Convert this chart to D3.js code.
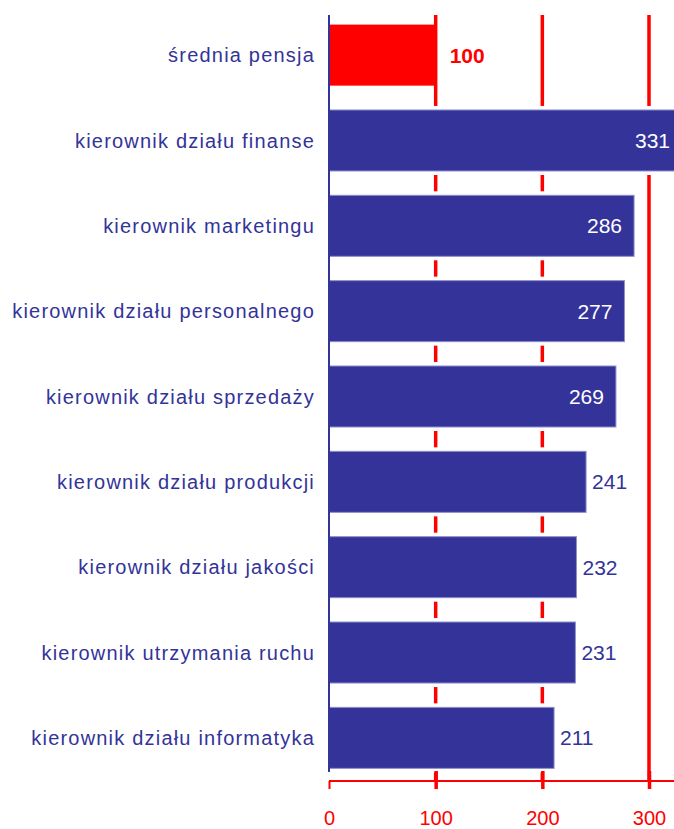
<!DOCTYPE html>
<html>
<head>
<meta charset="utf-8">
<script src="https://cdn.jsdelivr.net/npm/d3@7.9.0/dist/d3.min.js"></script>
<style>
  body { margin: 0; background: #fff; }
  svg { display: block; font-family: "Liberation Sans", Arial, sans-serif; }
</style>
</head>
<body>
<svg id="chart" width="674" height="829"></svg>
<script>
// data (average salary = 100)
const categories = [
  'średnia pensja',
  'kierownik działu finanse',
  'kierownik marketingu',
  'kierownik działu personalnego',
  'kierownik działu sprzedaży',
  'kierownik działu produkcji',
  'kierownik działu jakości',
  'kierownik utrzymania ruchu',
  'kierownik działu informatyka'
];
const values = [100, 331, 286, 277, 269, 241, 232, 231, 211];
const tickValues = [0, 100, 200, 300];

const blue = '#333399';
const red = '#ff0000';

const svg = d3.select('#chart');

const x = d3.scaleLinear().domain([0, 300]).range([329, 649]);
const y = d3.scaleBand()
  .domain(categories)
  .range([12, 781])
  .paddingInner(0.285)
  .paddingOuter(0.148);

// red grid lines, drawn first so the bars sit on top
svg.append('g')
  .selectAll('line')
  .data(tickValues.slice(1))
  .join('line')
  .attr('x1', d => x(d)).attr('x2', d => x(d))
  .attr('y1', 15).attr('y2', 781)
  .attr('stroke', red)
  .attr('stroke-width', 3.5);

const rows = svg.append('g')
  .selectAll('g')
  .data(categories.map((c, i) => ({ label: c, value: values[i], avg: i === 0 })))
  .join('g');

// white gap around the blue bars hides the grid there
rows.filter(d => !d.avg)
  .append('rect')
  .attr('x', x(0))
  .attr('y', d => y(d.label) - 4)
  .attr('width', d => x(d.value) - x(0) + 2)
  .attr('height', y.bandwidth() + 8)
  .attr('fill', '#fff');

rows.append('rect')
  .attr('x', x(0))
  .attr('y', d => y(d.label))
  .attr('width', d => x(d.value) - x(0))
  .attr('height', y.bandwidth())
  .attr('fill', d => d.avg ? red : blue)
  .attr('stroke', d => d.avg ? 'none' : '#8f8fcc')
  .attr('stroke-width', 1);

// category labels
rows.append('text')
  .attr('x', 315)
  .attr('y', d => y(d.label) + y.bandwidth() / 2)
  .attr('dy', '0.36em')
  .attr('text-anchor', 'end')
  .attr('fill', blue)
  .style('font-size', '20px')
  .style('letter-spacing', '1.2px')
  .text(d => d.label);

// value labels
rows.append('text')
  .attr('x', d => d.avg ? x(d.value) + 14 : (d.value >= 260 ? x(d.value) - 12 : x(d.value) + 6))
  .attr('y', d => y(d.label) + y.bandwidth() / 2)
  .attr('dy', '0.36em')
  .attr('text-anchor', d => (!d.avg && d.value >= 260) ? 'end' : 'start')
  .attr('fill', d => d.avg ? red : (d.value >= 260 ? '#fff' : blue))
  .style('font-size', '21px')
  .style('font-weight', d => d.avg ? 'bold' : 'normal')
  .text(d => d.value);

// left axis
svg.append('line')
  .attr('x1', x(0)).attr('x2', x(0))
  .attr('y1', 15).attr('y2', 772)
  .attr('stroke', blue)
  .attr('stroke-width', 2);

// bottom axis
const xAxis = d3.axisBottom(x)
  .tickValues(tickValues)
  .tickSize(8)
  .tickPadding(28)
  .tickSizeOuter(0);

const gx = svg.append('g')
  .attr('transform', 'translate(0,781)')
  .call(xAxis);
gx.select('.domain').remove();
gx.append('line')
  .attr('x1', x(0)).attr('x2', 674)
  .attr('stroke', red)
  .attr('stroke-width', 2);
gx.selectAll('.tick line')
  .attr('y1', d => d === 0 ? 0 : -10)
  .attr('stroke', red)
  .attr('stroke-width', d => d === 0 ? 2 : 3.5);
gx.selectAll('.tick text')
  .attr('fill', red)
  .attr('dy', '0.4em')
  .style('font-size', '20px')
  .style('font-family', '"Liberation Sans", Arial, sans-serif');
</script>
</body>
</html>
